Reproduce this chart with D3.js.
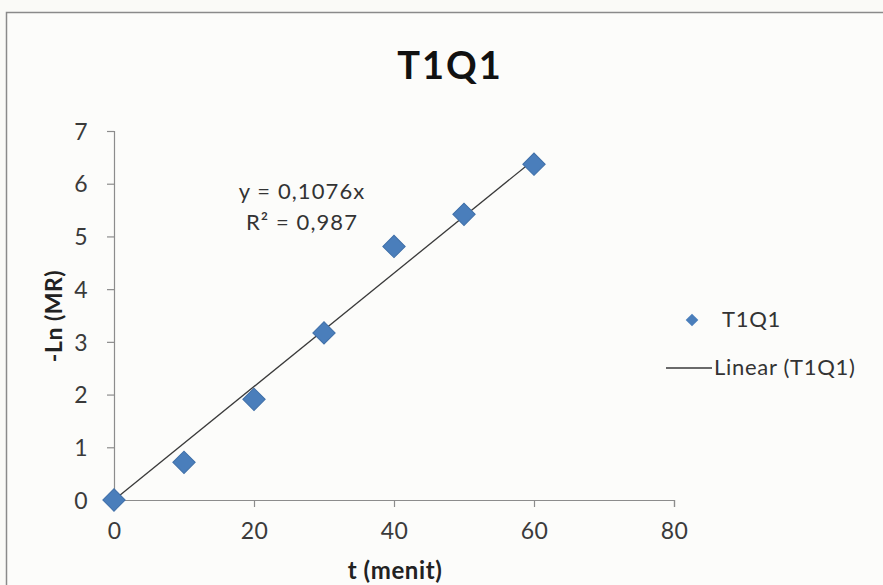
<!DOCTYPE html>
<html>
<head>
<meta charset="utf-8">
<script src="https://cdn.jsdelivr.net/npm/d3@7"></script>
<style>
  html, body { margin: 0; padding: 0; background: #fafaf7; }
  svg { display: block; }
  text { font-family: Lato, "Open Sans", sans-serif; }
</style>
</head>
<body>
<script>
const title = "T1Q1";
const seriesName = "T1Q1";
const trendName = "Linear (T1Q1)";
const xValues = [0, 10, 20, 30, 40, 50, 60];
const yValues = [0, 0.715, 1.91, 3.17, 4.81, 5.42, 6.37];
const slope = 0.1076;
const xTicks = [0, 20, 40, 60, 80];
const yTicks = [0, 1, 2, 3, 4, 5, 6, 7];
const equationLines = ["y = 0,1076x", "R² = 0,987"];
const xLabel = "t (menit)";
const yLabel = "-Ln (MR)";

const W = 883, H = 585;
const svg = d3.select("body").append("svg").attr("width", W).attr("height", H);

// chart frame
svg.append("rect").attr("x", 6.5).attr("y", 12.5).attr("width", W).attr("height", H)
  .attr("fill", "#fcfcfa").attr("stroke", "#8a8a8a").attr("stroke-width", 1.5);

const x = d3.scaleLinear().domain([0, 80]).range([114, 674]);
const y = d3.scaleLinear().domain([0, 7]).range([500, 131]);

// axes
const axisColor = "#8c8c8c";
const gx = svg.append("g").attr("transform", "translate(0,500)")
  .call(d3.axisBottom(x).tickValues(xTicks).tickSize(7).tickPadding(16).tickFormat(d3.format("d")));
const gy = svg.append("g").attr("transform", "translate(114,0)")
  .call(d3.axisLeft(y).tickValues(yTicks).tickSize(7).tickPadding(19).tickFormat(d3.format("d")));
[gx, gy].forEach(g => {
  g.select(".domain").attr("stroke", axisColor).attr("stroke-width", 1.2);
  g.selectAll(".tick line").attr("stroke", axisColor).attr("stroke-width", 1.2);
  g.selectAll(".tick text").attr("fill", "#3a3a3a").style("font-size", "23px")
    .style("letter-spacing", "0.3px")
    .style("font-family", "Lato, 'Open Sans', sans-serif");
});
gy.selectAll(".tick text").attr("dy", "0.36em");

// trendline
const trendX = [0, d3.max(xValues)];
svg.append("line")
  .attr("x1", x(trendX[0])).attr("y1", y(slope * trendX[0]))
  .attr("x2", x(trendX[1])).attr("y2", y(slope * trendX[1]))
  .attr("stroke", "#3a3a3a").attr("stroke-width", 1.3);

// points
const pts = xValues.map((v, i) => [v, yValues[i]]);
svg.append("g").selectAll("path").data(pts).join("path")
  .attr("d", d3.symbol().type(d3.symbolSquare).size(250)())
  .attr("transform", d => `translate(${x(d[0])},${y(d[1])}) rotate(45)`)
  .attr("fill", "#4a7ebb").attr("stroke", "#3f6fa8").attr("stroke-width", 1);

// equation
svg.append("text").attr("x", 302).attr("y", 199).attr("text-anchor", "middle")
  .style("font-size", "22px").style("letter-spacing", "1.1px").attr("fill", "#333").text(equationLines[0]);
svg.append("text").attr("x", 302).attr("y", 230).attr("text-anchor", "middle")
  .style("font-size", "22px").style("letter-spacing", "1.1px").attr("fill", "#333").text(equationLines[1]);

// title
svg.append("text").attr("x", 450).attr("y", 79).attr("text-anchor", "middle")
  .style("font-size", "38px").style("font-weight", "bold").style("letter-spacing", "2px")
  .attr("fill", "#111").text(title);

// axis labels
svg.append("text").attr("x", 395).attr("y", 579).attr("text-anchor", "middle")
  .style("font-size", "24px").style("font-weight", "bold").style("letter-spacing", "0.6px")
  .attr("fill", "#222").text(xLabel);
svg.append("text").attr("transform", "translate(62,316) rotate(-90)").attr("text-anchor", "middle")
  .style("font-size", "23px").style("font-weight", "bold").style("letter-spacing", "0.5px")
  .attr("fill", "#222").text(yLabel);

// legend
svg.append("path").attr("d", d3.symbol().type(d3.symbolSquare).size(80)())
  .attr("transform", "translate(692,320) rotate(45)").attr("fill", "#4a7ebb");
svg.append("text").attr("x", 722).attr("y", 327).style("font-size", "22px")
  .style("letter-spacing", "0.7px").attr("fill", "#333").text(seriesName);
svg.append("line").attr("x1", 666).attr("x2", 712).attr("y1", 368).attr("y2", 368)
  .attr("stroke", "#3a3a3a").attr("stroke-width", 1.3);
svg.append("text").attr("x", 714).attr("y", 375).style("font-size", "22px")
  .style("letter-spacing", "0.7px").attr("fill", "#333").text(trendName);
</script>
</body>
</html>
